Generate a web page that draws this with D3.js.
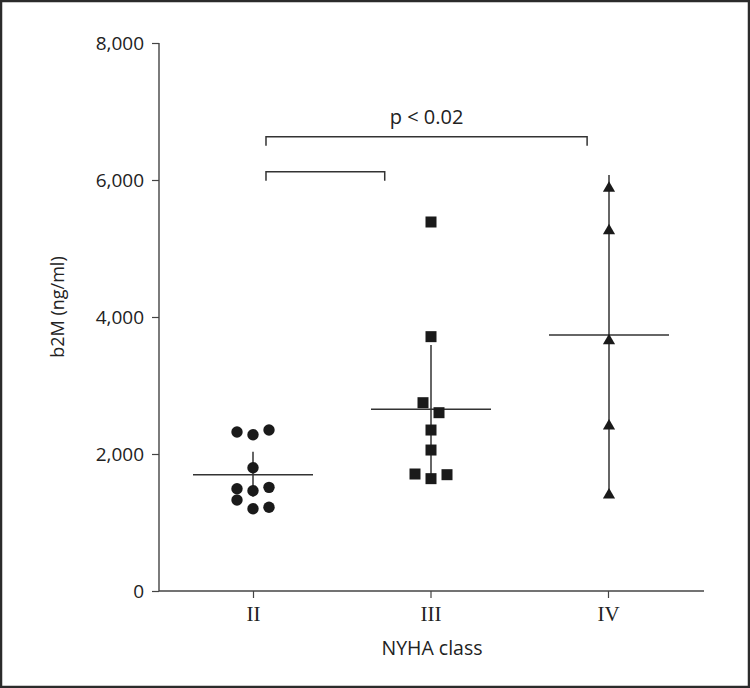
<!DOCTYPE html>
<html><head><meta charset="utf-8">
<script src="https://cdn.jsdelivr.net/npm/d3@7"></script>
<style>body{margin:0;background:#fff}svg{display:block}</style>
</head><body>
<script>
const categories = ["II", "III", "IV"];
const yTicks = [0, 2000, 4000, 6000, 8000];
const valuesII = [2321, 2282, 2350, 1800, 1494, 1464, 1513, 1328, 1201, 1222];
const jitterII = [-2, 0, 2, 0, -2, 0, 2, -2, 0, 2];
const valuesIII = [5387, 3713, 2749, 2603, 2350, 2058, 1708, 1640, 1698];
const jitterIII = [0, 0, -1, 1, 0, 0, -2, 0, 2];
const valuesIV = [5878, 5260, 3654, 2409, 1401];
const jitterIV = [0, 0, 0, 0, 0];
const medians = [1698, 2652, 3737];
const barLow = [1377, 1640, 1400];
const barHigh = [2034, 3591, 6073];
// brackets: [fromPos, toPos, level] in category-index units / data units
const brackets = [[0.073, 1.877, 6632], [0.073, 0.74, 6121]];
const pLabel = "p < 0.02";

const W = 750, H = 688;
const svg = d3.select("body").append("svg").attr("width", W).attr("height", H);
svg.append("rect").attr("x", 1).attr("y", 1).attr("width", W - 2).attr("height", H - 2)
  .attr("fill", "#fff").attr("stroke", "#2b2b2b").attr("stroke-width", 2.5);

const y = d3.scaleLinear().domain([0, 8000]).range([591, 43]);
const xi = d3.scaleLinear().domain([0, 2]).range([253, 609]);
const xAxisScale = d3.scalePoint().domain(categories).range([253, 608]);
const axisColor = "#444";
const sansFont = "'Open Sans', sans-serif";

// y axis
const yAxis = svg.append("g").attr("transform", "translate(159,0)")
  .call(d3.axisLeft(y).tickValues(yTicks).tickSize(7).tickPadding(8).tickFormat(d3.format(",")));
yAxis.select(".domain").attr("stroke", axisColor).attr("stroke-width", 1.4).attr("d", "M0,43V591");
yAxis.selectAll(".tick line").attr("stroke", axisColor).attr("stroke-width", 1.2);
yAxis.selectAll(".tick text").attr("font-family", sansFont).attr("font-size", 19).attr("fill", "#222");

// x axis
const xAxis = svg.append("g").attr("transform", "translate(0,591)")
  .call(d3.axisBottom(xAxisScale).tickSize(7).tickPadding(8));
xAxis.select(".domain").attr("stroke", axisColor).attr("stroke-width", 1.4).attr("d", "M159,0H704");
xAxis.selectAll(".tick line").attr("stroke", axisColor).attr("stroke-width", 1.2);
xAxis.selectAll(".tick text").attr("font-family", "'Liberation Serif', serif").attr("font-size", 21).attr("fill", "#222");

// axis titles
svg.append("text").attr("transform", "translate(64,307) rotate(-90)").attr("text-anchor", "middle")
  .attr("font-family", sansFont).attr("font-size", 18).attr("fill", "#222").text("b2M (ng/ml)");
svg.append("text").attr("x", 432).attr("y", 655).attr("text-anchor", "middle")
  .attr("font-family", sansFont).attr("font-size", 19.5).attr("fill", "#222").text("NYHA class");

// error bars and medians
const lineColor = "#333";
categories.forEach((c, i) => {
  svg.append("line").attr("x1", xi(i)).attr("x2", xi(i)).attr("y1", y(barHigh[i])).attr("y2", y(barLow[i]))
    .attr("stroke", lineColor).attr("stroke-width", 1.5);
  svg.append("line").attr("x1", xi(i) - 60).attr("x2", xi(i) + 60).attr("y1", y(medians[i])).attr("y2", y(medians[i]))
    .attr("stroke", lineColor).attr("stroke-width", 1.5);
});

// points
const dot = "#1a1a1a";
const step = 8;
svg.append("g").selectAll("circle").data(valuesII).join("circle")
  .attr("cx", (d, k) => xi(0) + jitterII[k] * step).attr("cy", d => y(d)).attr("r", 5.7).attr("fill", dot);
svg.append("g").selectAll("rect").data(valuesIII).join("rect")
  .attr("x", (d, k) => xi(1) + jitterIII[k] * step - 5.5).attr("y", d => y(d) - 5.5)
  .attr("width", 11).attr("height", 11).attr("fill", dot);
const tri = d3.symbol().type(d3.symbolTriangle).size(64);
svg.append("g").selectAll("path").data(valuesIV).join("path")
  .attr("d", tri).attr("transform", (d, k) => `translate(${xi(2) + jitterIV[k] * step},${y(d)})`).attr("fill", dot);

// brackets
brackets.forEach(b => {
  const x1 = xi(b[0]), x2 = xi(b[1]), yy = y(b[2]);
  svg.append("path").attr("d", `M${x1},${yy + 9}V${yy}H${x2}V${yy + 9}`)
    .attr("fill", "none").attr("stroke", lineColor).attr("stroke-width", 1.5);
});
svg.append("text").attr("x", (xi(brackets[0][0]) + xi(brackets[0][1])) / 2).attr("y", y(brackets[0][2]) - 13)
  .attr("text-anchor", "middle").attr("font-family", sansFont).attr("font-size", 20).attr("fill", "#222").text(pLabel);
</script>
</body></html>
